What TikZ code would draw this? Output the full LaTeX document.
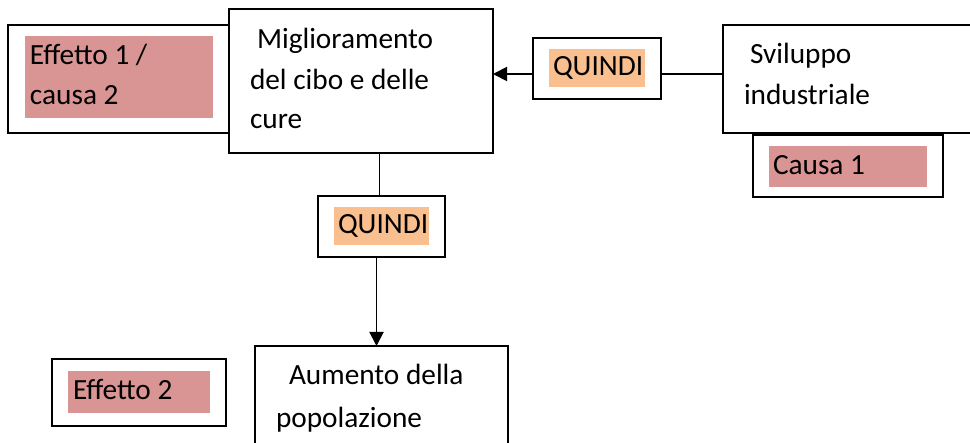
\documentclass[tikz,border=0pt]{standalone}
\usepackage{fontspec}
\setmainfont{Carlito}
\usetikzlibrary{arrows.meta,calc}
\definecolor{pinkhl}{HTML}{D99594}
\definecolor{orangehl}{HTML}{FABF8F}
\tikzset{
  box/.style={draw=black,line width=1.9pt,fill=white,rectangle,inner sep=0pt,outer sep=0pt,anchor=north west},
  hl/.style={rectangle,inner sep=0pt,outer sep=0pt,anchor=north west},
  txt/.style={inner sep=0pt,outer sep=0pt,anchor=base west,font=\fontsize{29.3}{40}\selectfont},
  arr/.style={line width=1.9pt,-{Triangle[length=14pt,width=14pt]}},
  lin/.style={line width=1.9pt}
}
\begin{document}
\begin{tikzpicture}[x=1pt,y=-1pt]
\useasboundingbox (0,0) rectangle (970,443);
% Effetto 1 / causa 2
\node[box,minimum width=222pt,minimum height=108pt] (e1) at (8,25) {};
\node[hl,fill=pinkhl,minimum width=188pt,minimum height=82pt] (e1h) at (25,36) {};
\node[txt] (e1t1) at (30,65) {Effetto 1 /};
\node[txt] (e1t2) at (30,105) {causa 2};
% Miglioramento
\node[box,minimum width=264pt,minimum height=144pt] (mig) at (229,9) {};
\node[txt] (mt1) at (257,49) {Miglioramento};
\node[txt] (mt2) at (250,90) {del cibo e delle};
\node[txt] (mt3) at (250,129) {cure};
% QUINDI 1
\node[box,minimum width=128pt,minimum height=61pt] (q1) at (533,38) {};
\node[hl,fill=orangehl,minimum width=96pt,minimum height=38pt] (q1h) at (549,49) {};
\node[txt] (q1t) at (553,76) {QUINDI};
% Sviluppo industriale
\node[box,minimum width=260pt,minimum height=108pt] (svil) at (723,25) {};
\node[txt] (st1) at (750,64) {Sviluppo};
\node[txt] (st2) at (744,105) {industriale};
% Causa 1
\node[box,minimum width=190pt,minimum height=62pt] (c1) at (753,135) {};
\node[hl,fill=pinkhl,minimum width=158pt,minimum height=41pt] (c1h) at (769,146) {};
\node[txt] (c1t) at (773,175) {Causa 1};
% QUINDI 2
\node[box,minimum width=127pt,minimum height=61pt] (q2) at (318,196) {};
\node[hl,fill=orangehl,minimum width=95pt,minimum height=38pt] (q2h) at (334,207) {};
\node[txt] (q2t) at (338,234) {QUINDI};
% Aumento della popolazione
\node[box,minimum width=253pt,minimum height=110pt] (aum) at (255,346) {};
\node[txt] (at1) at (289,385) {Aumento della};
\node[txt] (at2) at (276,428) {popolazione};
% Effetto 2
\node[box,minimum width=174pt,minimum height=67pt] (e2) at (52,359) {};
\node[hl,fill=pinkhl,minimum width=142pt,minimum height=42pt] (e2h) at (68,371) {};
\node[txt] (e2t) at (73,400) {Effetto 2};
% connectors
\draw[lin] ([yshift=-5.5pt]q1.east) -- ([yshift=-5.5pt]q1.east -| svil.west);
\draw[arr] ([yshift=-5.5pt]q1.west) -- ([yshift=-5.5pt]q1.west -| mig.east);
\draw[lin] ([xshift=-2pt]q2.north) -- ([xshift=-2pt]q2.north |- mig.south);
\draw[arr] ([xshift=-5pt]q2.south) -- ([xshift=-5pt]q2.south |- aum.north);
\end{tikzpicture}
\end{document}
